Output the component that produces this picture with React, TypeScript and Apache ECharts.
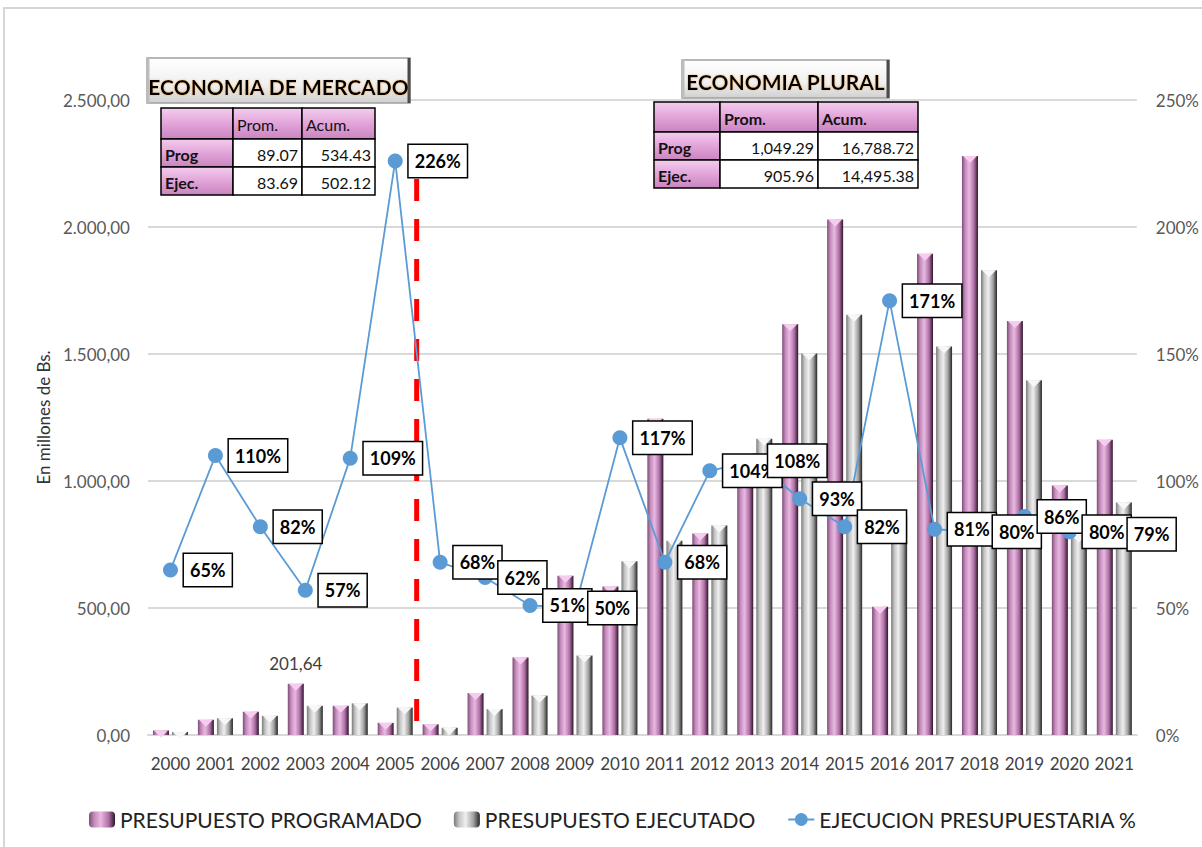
import React, { useEffect, useRef } from 'react';
import * as echarts from 'echarts';

const years = ['2000','2001','2002','2003','2004','2005','2006','2007','2008','2009','2010','2011','2012','2013','2014','2015','2016','2017','2018','2019','2020','2021'];
const programado = [18, 60, 92, 201.64, 115, 47.79, 42, 165, 305, 627, 585, 1245, 793, 1080, 1617, 2030, 505, 1895, 2280, 1630, 982, 1162];
const ejecutado = [12, 66, 75.4, 115, 125, 108, 28.6, 102, 155, 313, 684, 765, 825, 1166, 1502, 1655, 862, 1530, 1830, 1397, 785, 915];
const ejecucionPct = [65, 110, 82, 57, 109, 226, 68, 62, 51, 50, 117, 68, 104, 108, 93, 82, 171, 81, 80, 86, 80, 79];
const seriesNames = ['PRESUPUESTO PROGRAMADO', 'PRESUPUESTO EJECUTADO', 'EJECUCION PRESUPUESTARIA %'];
const labeledBarIndex = 3;
const labeledBarText = '201,64';
const tableHeader = ['', 'Prom.', 'Acum.'];
const mercadoRows = [['Prog', '89.07', '534.43'], ['Ejec.', '83.69', '502.12']];
const pluralRows = [['Prog', '1,049.29', '16,788.72'], ['Ejec.', '905.96', '14,495.38']];
const titleMercado = 'ECONOMIA DE MERCADO';
const titlePlural = 'ECONOMIA PLURAL';
const axisName = 'En millones de Bs.';
const dividerBetween = ['2005', '2006'];

const FONT = 'Lato, "Open Sans", sans-serif';
const BAR_W = 16;
const GAP = 3;

function fmtES(v: number): string {
  const s = v.toFixed(2);
  const [i, d] = s.split('.');
  return i.replace(/\B(?=(\d{3})+(?!\d))/g, '.') + ',' + d;
}

function pinkFill() {
  return new echarts.graphic.LinearGradient(0, 0, 0, 1, [
    { offset: 0, color: '#f3cdee' },
    { offset: 0.5, color: '#e2a4d9' },
    { offset: 1, color: '#c984bf' },
  ]);
}

function tableEls(cols: number[], rows: number[], data: string[][], boldHeader: boolean) {
  const els: any[] = [];
  const all = [tableHeader, ...data];
  for (let r = 0; r < 3; r++) {
    for (let c = 0; c < 3; c++) {
      const x = cols[c], y = rows[r], w = cols[c + 1] - cols[c], h = rows[r + 1] - rows[r];
      const pink = r === 0 || c === 0;
      els.push({
        type: 'rect', z: 10,
        shape: { x, y, width: w, height: h },
        style: { fill: pink ? pinkFill() : '#ffffff', stroke: '#000', lineWidth: 1.5 },
      });
      const txt = all[r][c];
      if (!txt) continue;
      const isVal = r > 0 && c > 0;
      els.push({
        type: 'text', z: 11,
        style: {
          text: txt,
          x: isVal ? x + w - 4 : x + 4,
          y: y + h / 2 + 1,
          align: isVal ? 'right' : 'left',
          verticalAlign: 'middle',
          fontFamily: FONT,
          fontSize: 16,
          fontWeight: (c === 0 || (r === 0 && boldHeader)) ? 'bold' : 'normal',
          fill: '#111',
        },
      });
    }
  }
  return els;
}

function titleEls(x: number, y: number, w: number, h: number, text: string, ty: number) {
  return [
    {
      type: 'rect', z: 10,
      shape: { x, y, width: w, height: h },
      style: {
        fill: new echarts.graphic.LinearGradient(0, 0, 0, 1, [
          { offset: 0, color: '#ffffff' },
          { offset: 0.6, color: '#f0f0f0' },
          { offset: 1, color: '#d0d0d0' },
        ]),
        stroke: '#a0a0a0', lineWidth: 1.5,
      },
    },
    { type: 'line', z: 10, shape: { x1: x + w - 1, y1: y, x2: x + w - 1, y2: y + h }, style: { stroke: '#4a4a4a', lineWidth: 3 } },
    { type: 'line', z: 10, shape: { x1: x + 1, y1: y, x2: x + 1, y2: y + h }, style: { stroke: '#bdbdbd', lineWidth: 3 } },
    {
      type: 'text', z: 11,
      style: {
        text, x: x + w / 2, y: ty, align: 'center', verticalAlign: 'middle',
        fontFamily: FONT, fontSize: 21, fontWeight: 'bold', fill: '#000',
        textShadowColor: 'rgba(235,150,50,0.6)', textShadowBlur: 2,
      },
    },
  ];
}

export default function App() {
  const ref = useRef<HTMLDivElement>(null);
  useEffect(() => {
    if (!ref.current) return;
    const chart = echarts.init(ref.current, undefined, { renderer: 'svg' });
    const progGrad = new echarts.graphic.LinearGradient(0, 0, 1, 0, [
      { offset: 0, color: '#7d4c76' },
      { offset: 0.2, color: '#c48bbb' },
      { offset: 0.45, color: '#e9b9e2' },
      { offset: 0.75, color: '#b071a6' },
      { offset: 1, color: '#2e1529' },
    ]);
    const ejecGrad = new echarts.graphic.LinearGradient(0, 0, 1, 0, [
      { offset: 0, color: '#7a7a7a' },
      { offset: 0.2, color: '#c4c4c4' },
      { offset: 0.45, color: '#efefef' },
      { offset: 0.75, color: '#a2a2a2' },
      { offset: 1, color: '#262626' },
    ]);
    const topTri = (offset: number, fill: string) => (params: any, api: any) => {
      const p = api.coord([api.value(0), api.value(1)]);
      const x = p[0] + offset;
      const y = p[1];
      return {
        type: 'polygon',
        shape: { points: [[x - BAR_W / 2 + 1, y], [x + BAR_W / 2 - 1, y], [x, y + 7]] },
        style: { fill },
      };
    };
    chart.setOption({
      animation: false,
      backgroundColor: '#ffffff',
      grid: { left: 148, right: 64, top: 100, bottom: 112 },
      legend: {
        data: seriesNames,
        left: 84, top: 804,
        itemWidth: 26, itemHeight: 16, itemGap: 32,
        textStyle: { fontFamily: FONT, fontSize: 21, color: '#222' },
      },
      xAxis: {
        type: 'category', data: years,
        axisLine: { lineStyle: { color: '#d9d9d9', width: 2 } },
        axisTick: { show: false },
        axisLabel: { interval: 0, fontFamily: FONT, fontSize: 17, color: '#404040', margin: 20 },
      },
      yAxis: [
        {
          type: 'value', min: 0, max: 2500, interval: 500,
          axisLabel: { formatter: (v: number) => fmtES(v), fontFamily: FONT, fontSize: 17, color: '#595959', margin: 18 },
          splitLine: { lineStyle: { color: '#d9d9d9', width: 2 } },
          axisLine: { show: false }, axisTick: { show: false },
          name: axisName, nameLocation: 'middle', nameGap: 96,
          nameTextStyle: { fontFamily: FONT, fontSize: 17, color: '#333' },
        },
        {
          type: 'value', min: 0, max: 250, interval: 50,
          axisLabel: { formatter: '{value}%', fontFamily: FONT, fontSize: 17, color: '#595959', margin: 19 },
          splitLine: { show: false }, axisLine: { show: false }, axisTick: { show: false },
        },
      ],
      series: [
        {
          name: seriesNames[0], type: 'bar', barWidth: BAR_W, barGap: '19%', z: 2,
          itemStyle: { color: progGrad },
          data: programado.map((v, i) => i === labeledBarIndex ? {
            value: v,
            label: { show: true, position: 'top', distance: 12, formatter: labeledBarText, fontFamily: FONT, fontSize: 17, color: '#404040' },
          } : v),
        },
        {
          name: seriesNames[1], type: 'bar', barWidth: BAR_W, z: 2,
          itemStyle: { color: ejecGrad },
          data: ejecutado,
        },
        {
          name: 'topProg', type: 'custom', z: 3, silent: true,
          renderItem: topTri(-(BAR_W + GAP) / 2, '#f6cdef'),
          data: programado.map((v, i) => [i, v]),
        },
        {
          name: 'topEjec', type: 'custom', z: 3, silent: true,
          renderItem: topTri((BAR_W + GAP) / 2, '#f7f7f7'),
          data: ejecutado.map((v, i) => [i, v]),
        },
        {
          name: seriesNames[2], type: 'line', yAxisIndex: 1, z: 5,
          data: ejecucionPct,
          symbol: 'circle', symbolSize: 15,
          itemStyle: { color: '#5b9bd5' },
          lineStyle: { color: '#5b9bd5', width: 1.8 },
          label: {
            show: true, position: 'right', distance: 6, formatter: '{c}%',
            fontFamily: FONT, fontWeight: 'bold', fontSize: 18, color: '#000',
            backgroundColor: '#fff', borderColor: '#000', borderWidth: 1.5, padding: [8, 6, 6, 6],
          },
        },
      ],
    });

    const xa = chart.convertToPixel({ xAxisIndex: 0 }, dividerBetween[0]) as number;
    const xb = chart.convertToPixel({ xAxisIndex: 0 }, dividerBetween[1]) as number;
    const xm = (xa + xb) / 2 - 1;
    const yb = chart.convertToPixel({ yAxisIndex: 0 }, 0) as number;

    chart.setOption({
      graphic: [
        { type: 'rect', z: 0, silent: true, shape: { x: 4, y: 8, width: 1260, height: 900 }, style: { fill: 'none', stroke: '#d6d6d6', lineWidth: 2 } },
        { type: 'line', z: 4, silent: true, shape: { x1: xm, y1: 179, x2: xm, y2: yb + 1 }, style: { stroke: '#ff0000', lineWidth: 5, lineDash: [22, 18] } },
        ...titleEls(147, 58, 263, 45, titleMercado, 86),
        ...tableEls([161, 233, 302, 375], [108, 139, 167, 195], mercadoRows, false),
        ...titleEls(682, 60, 207, 38, titlePlural, 81),
        ...tableEls([654, 720, 818, 918], [102, 132, 160, 188], pluralRows, true),
      ],
    });
    return () => chart.dispose();
  }, []);
  return <div ref={ref} style={{ position: 'absolute', left: 0, top: 0, width: 1202, height: 847 }} />;
}
